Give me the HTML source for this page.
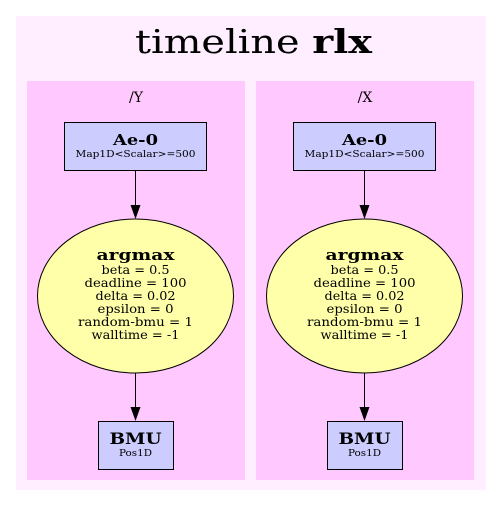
<!DOCTYPE html>
<html><head><style>body{margin:0;background:#fff}</style></head><body>
<svg width="501" height="507" xmlns="http://www.w3.org/2000/svg" font-family="DejaVu Serif, serif">
<rect x="16" y="16" width="470" height="474" fill="#ffeeff"/>
<text x="135" y="53" font-size="33" textLength="237" lengthAdjust="spacingAndGlyphs">timeline <tspan font-weight="bold">rlx</tspan></text>
<g id="c">
<rect x="27" y="81" width="218" height="399" fill="#ffc8ff"/>
<text x="136" y="102" font-size="14" text-anchor="middle">/Y</text>
<rect x="64.5" y="122.5" width="142" height="48" fill="#ccccff" stroke="#000"/>
<text x="135.5" y="145" font-size="15" font-weight="bold" text-anchor="middle" textLength="45" lengthAdjust="spacingAndGlyphs">Ae-0</text>
<text x="135.5" y="157" font-size="9" text-anchor="middle" textLength="120" lengthAdjust="spacingAndGlyphs">Map1D&lt;Scalar&gt;=500</text>
<line x1="135.5" y1="171" x2="135.5" y2="207" stroke="#000"/>
<polygon points="130.5,205 140.5,205 135.5,219" fill="#000"/>
<ellipse cx="135.5" cy="296" rx="98" ry="77" fill="#ffffaa" stroke="#000"/>
<g font-size="12" text-anchor="middle">
<text x="135.5" y="260" font-size="15" font-weight="bold" textLength="78" lengthAdjust="spacingAndGlyphs">argmax</text>
<text x="135.5" y="274" textLength="68" lengthAdjust="spacingAndGlyphs">beta = 0.5</text>
<text x="135.5" y="287" textLength="102" lengthAdjust="spacingAndGlyphs">deadline = 100</text>
<text x="135.5" y="300" textLength="80" lengthAdjust="spacingAndGlyphs">delta = 0.02</text>
<text x="135.5" y="313" textLength="76" lengthAdjust="spacingAndGlyphs">epsilon = 0</text>
<text x="135.5" y="326" textLength="115" lengthAdjust="spacingAndGlyphs">random-bmu = 1</text>
<text x="135.5" y="339" textLength="88" lengthAdjust="spacingAndGlyphs">walltime = -1</text>
</g>
<line x1="135.5" y1="373" x2="135.5" y2="409" stroke="#000"/>
<polygon points="130.5,407 140.5,407 135.5,421" fill="#000"/>
<rect x="98.5" y="421.5" width="75" height="48" fill="#ccccff" stroke="#000"/>
<text x="135.5" y="444" font-size="16" font-weight="bold" text-anchor="middle" textLength="52" lengthAdjust="spacingAndGlyphs">BMU</text>
<text x="135.5" y="456" font-size="9" text-anchor="middle" textLength="33" lengthAdjust="spacingAndGlyphs">Pos1D</text>
</g>
<g transform="translate(229,0)">
<rect x="27" y="81" width="218" height="399" fill="#ffc8ff"/>
<text x="136" y="102" font-size="14" text-anchor="middle">/X</text>
<rect x="64.5" y="122.5" width="142" height="48" fill="#ccccff" stroke="#000"/>
<text x="135.5" y="145" font-size="15" font-weight="bold" text-anchor="middle" textLength="45" lengthAdjust="spacingAndGlyphs">Ae-0</text>
<text x="135.5" y="157" font-size="9" text-anchor="middle" textLength="120" lengthAdjust="spacingAndGlyphs">Map1D&lt;Scalar&gt;=500</text>
<line x1="135.5" y1="171" x2="135.5" y2="207" stroke="#000"/>
<polygon points="130.5,205 140.5,205 135.5,219" fill="#000"/>
<ellipse cx="135.5" cy="296" rx="98" ry="77" fill="#ffffaa" stroke="#000"/>
<g font-size="12" text-anchor="middle">
<text x="135.5" y="260" font-size="15" font-weight="bold" textLength="78" lengthAdjust="spacingAndGlyphs">argmax</text>
<text x="135.5" y="274" textLength="68" lengthAdjust="spacingAndGlyphs">beta = 0.5</text>
<text x="135.5" y="287" textLength="102" lengthAdjust="spacingAndGlyphs">deadline = 100</text>
<text x="135.5" y="300" textLength="80" lengthAdjust="spacingAndGlyphs">delta = 0.02</text>
<text x="135.5" y="313" textLength="76" lengthAdjust="spacingAndGlyphs">epsilon = 0</text>
<text x="135.5" y="326" textLength="115" lengthAdjust="spacingAndGlyphs">random-bmu = 1</text>
<text x="135.5" y="339" textLength="88" lengthAdjust="spacingAndGlyphs">walltime = -1</text>
</g>
<line x1="135.5" y1="373" x2="135.5" y2="409" stroke="#000"/>
<polygon points="130.5,407 140.5,407 135.5,421" fill="#000"/>
<rect x="98.5" y="421.5" width="75" height="48" fill="#ccccff" stroke="#000"/>
<text x="135.5" y="444" font-size="16" font-weight="bold" text-anchor="middle" textLength="52" lengthAdjust="spacingAndGlyphs">BMU</text>
<text x="135.5" y="456" font-size="9" text-anchor="middle" textLength="33" lengthAdjust="spacingAndGlyphs">Pos1D</text>
</g>
</svg>
</body></html>
